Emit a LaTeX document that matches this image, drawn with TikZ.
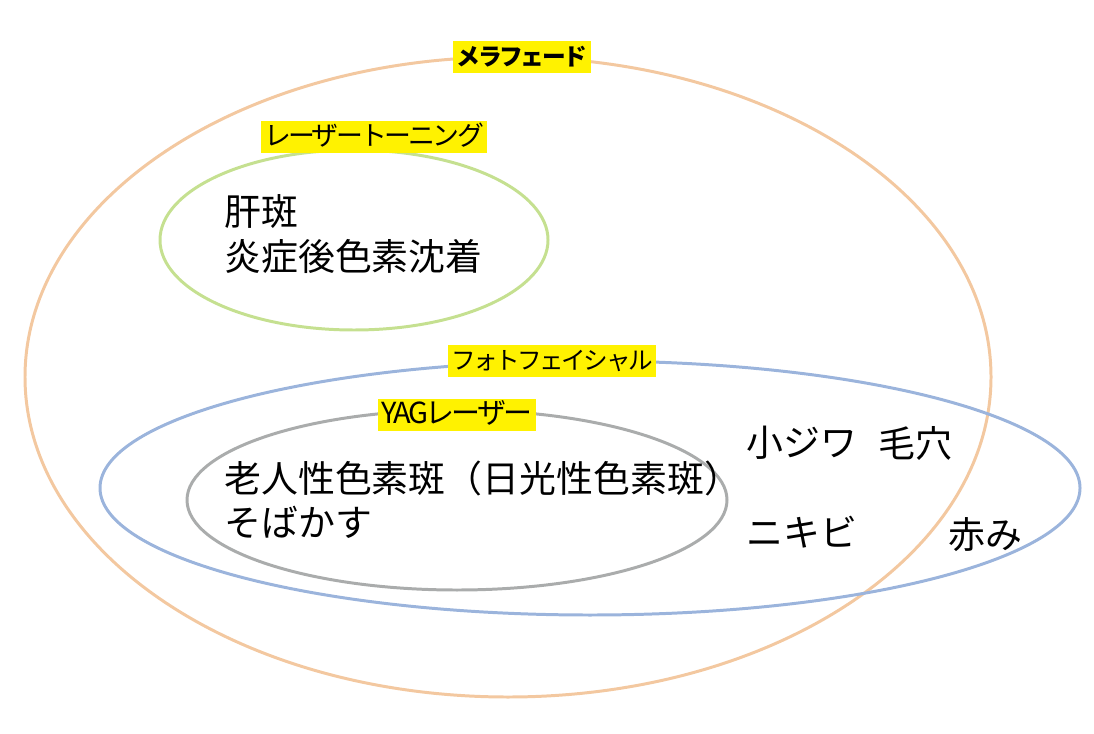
\documentclass[tikz,border=0pt]{standalone}
\usepackage{fontspec}
\setmainfont{Noto Sans CJK JP}
\newfontfamily\tagfont{Noto Sans CJK JP}[LetterSpace=-10]
\definecolor{melaorange}{RGB}{243,200,160}
\definecolor{toninggreen}{RGB}{197,224,144}
\definecolor{photoblue}{RGB}{155,180,220}
\definecolor{yaggray}{RGB}{170,172,172}
\begin{document}
\begin{tikzpicture}[x=0.02cm,y=-0.02cm,
    tag/.style={fill=yellow,inner xsep=2pt,inner ysep=1.5pt,text height=12.5pt,text depth=3pt,font=\tagfont\fontsize{15}{16}\selectfont},
    item/.style={anchor=west,inner sep=0pt,font=\fontsize{21}{24}\selectfont}]
                    \useasboundingbox (0,0) rectangle (1094,733);

                    \draw[melaorange,line width=1.7pt] (508,377) ellipse (483 and 320);
                    \draw[toninggreen,line width=1.7pt] (354,240) ellipse (194 and 90);
                    \draw[photoblue,line width=1.7pt] (590,488) ellipse (490 and 127);
                    \draw[yaggray,line width=1.7pt] (457,500) ellipse (270 and 90);

                    \node[tag,font=\tagfont\fontsize{13.5}{15}\selectfont\bfseries] (mela) at (522,57) {メラフェード};
                    \node[tag,font=\tagfont\fontsize{15.3}{16}\selectfont] (toning) at (374,137) {レーザートーニング};
                    \node[tag,font=\tagfont\fontsize{14}{15}\selectfont] (photo) at (552,361) {フォトフェイシャル};
                    \node[tag,font=\tagfont\fontsize{16.5}{17}\selectfont] (yag) at (457,415) {YAGレーザー};

                    \node[item] (kanpan) at (224,212) {肝斑};
                    \node[item] (enshou) at (224,256) {炎症後色素沈着};
                    \node[item] (rojin) at (224,478) {老人性色素斑（日光性色素斑）};
                    \node[item] (sobakasu) at (224,522) {そばかす};
                    \node[item] (kojiwa) at (746,443) {小ジワ};
                    \node[item] (keana) at (878,443) {毛穴};
                    \node[item] (nikibi) at (746,532) {ニキビ};
                    \node[item] (akami) at (948,535) {赤み};
                \end{tikzpicture}
\end{document}
